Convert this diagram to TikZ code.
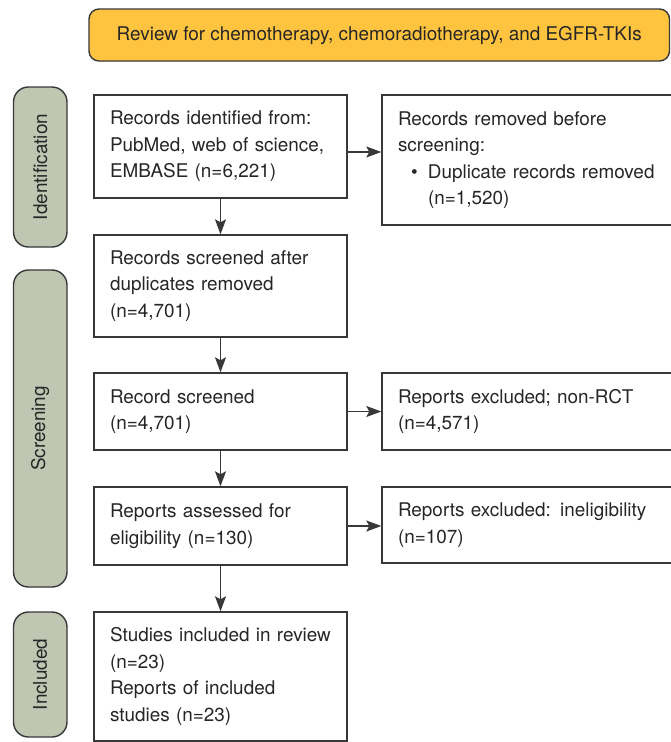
\documentclass[tikz,border=0pt]{standalone}
\usepackage{fontspec}
\setmainfont{TeX Gyre Heros}
\usetikzlibrary{arrows.meta}
\definecolor{txt}{HTML}{262626}
\definecolor{edge}{HTML}{383838}
\definecolor{topfill}{HTML}{FEC43F}
\definecolor{pillfill}{HTML}{BFC7B3}
\begin{document}
\begin{tikzpicture}[x=1pt,y=-1pt,
  every node/.style={font=\fontsize{18.9}{26.5}\selectfont, text=txt},
  mainbox/.style={draw=edge, line width=1.4pt, fill=white, rectangle,
    minimum width=253pt, text width=221pt, inner xsep=16pt, inner ysep=0pt, align=left},
  sidebox/.style={draw=edge, line width=1.4pt, fill=white, rectangle,
    minimum width=338pt, text width=306pt, inner xsep=16pt, inner ysep=0pt, align=left},
  pill/.style={draw=edge, line width=1.4pt, fill=pillfill, rectangle, rounded corners=15pt,
    minimum width=53.5pt, inner sep=0pt},
  headbox/.style={draw=edge, line width=1.4pt, fill=topfill, rectangle, rounded corners=10pt,
    minimum width=580.5pt, minimum height=52pt, inner sep=0pt},
  arr/.style={draw=edge, line width=1.4pt, -{Stealth[length=15pt,width=11pt,inset=3pt]}}
]
\useasboundingbox (0,0) rectangle (671,742);
\clip (0,0) rectangle (671,742);

\node[headbox] (head) at (379.25,35) {Review for chemotherapy, chemoradiotherapy, and EGFR-TKIs};

\node[pill, minimum height=160pt] (p1) at (40.25,167) {\rotatebox{90}{Identification}};
\node[pill, minimum height=317pt] (p2) at (40.25,428.5) {\rotatebox{90}{Screening}};
\node[pill, minimum height=125pt] (p3) at (40.25,674.5) {\rotatebox{90}{Included}};

\node[mainbox, minimum height=103pt] (b1) at (220.5,146.5) {Records identified from:\\PubMed, web of science,\\EMBASE (n=6,221)};
\node[mainbox, minimum height=102pt] (b2) at (220.5,286) {Records screened after\\duplicates removed\\(n=4,701)};
\node[mainbox, minimum height=77pt] (b3) at (220.5,411.5) {Record screened\\(n=4,701)};
\node[mainbox, minimum height=78pt] (b4) at (220.5,526) {Reports assessed for\\eligibility (n=130)};
\node[mainbox, minimum height=129pt] (b5) at (220.5,676.5) {Studies included in review\\(n=23)\\Reports of included\\studies (n=23)};

\node[sidebox, minimum height=130pt] (r1) at (551,160) {Records removed before\\screening:\\\hspace*{13pt}\makebox[17pt][l]{\textbullet}Duplicate records removed\\\hspace*{30pt}(n=1,520)};
\node[sidebox, minimum height=77pt] (r2) at (551,411.5) {Reports excluded; non-RCT\\(n=4,571)};
\node[sidebox, minimum height=76pt] (r3) at (551,525) {Reports excluded: ineligibility\\(n=107)};

\draw[arr] (b1.south) -- (b2.north);
\draw[arr] (b2.south) -- (b3.north);
\draw[arr] (b3.south) -- (b4.north);
\draw[arr] (b4.south) -- (b5.north);
\draw[arr] ([yshift=-5.5pt]b1.east) -- ([yshift=-5.5pt]b1.east -| r1.west);
\draw[arr] (b3.east) -- (b3.east -| r2.west);
\draw[arr] (b4.east) -- (b4.east -| r3.west);
\end{tikzpicture}
\end{document}
